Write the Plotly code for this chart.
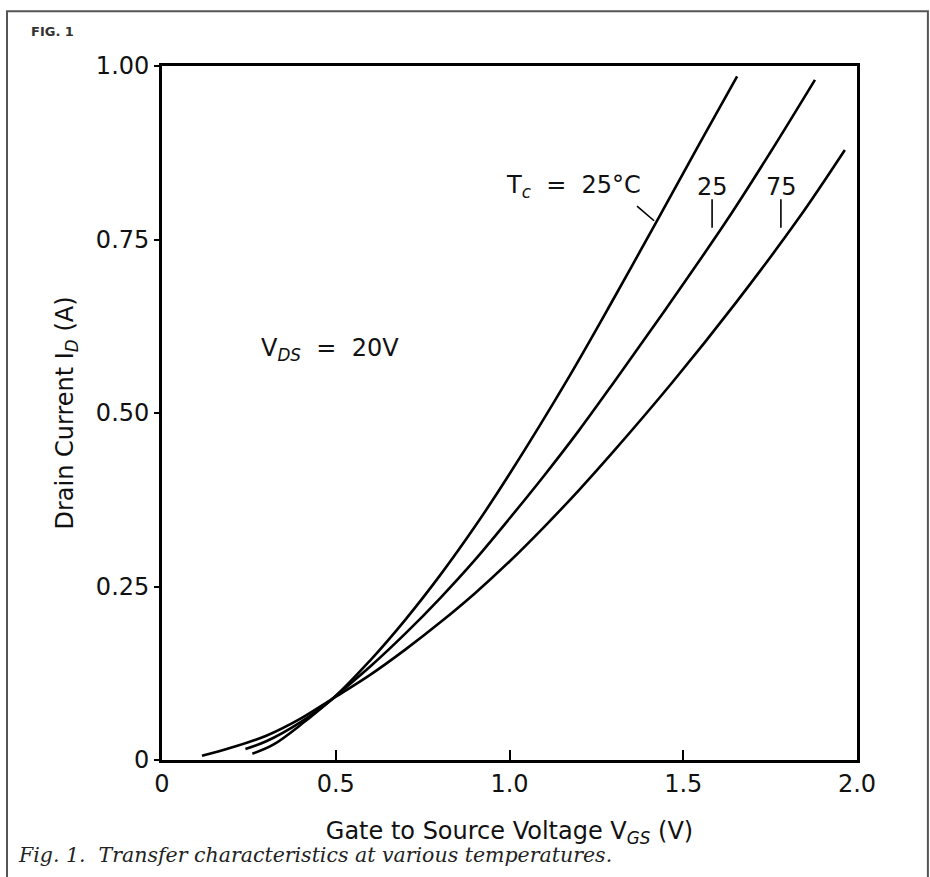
import plotly.graph_objects as go

# Data (V_GS in volts, I_D in amperes)
vgs_25a = [0.24, 0.30, 0.40, 0.49, 0.60, 0.70, 0.80, 0.90, 1.00, 1.17, 1.30, 1.43, 1.55, 1.655]
id_25a = [0.016, 0.027, 0.055, 0.088, 0.144, 0.202, 0.266, 0.336, 0.412, 0.551, 0.665, 0.782, 0.891, 0.985]

vgs_25b = [0.26, 0.32, 0.41, 0.49, 0.60, 0.70, 0.80, 0.90, 1.00, 1.10, 1.20, 1.30, 1.45, 1.626, 1.75, 1.879]
id_25b = [0.009, 0.022, 0.055, 0.088, 0.135, 0.182, 0.233, 0.288, 0.348, 0.410, 0.475, 0.544, 0.650, 0.778, 0.875, 0.980]

vgs_75 = [0.115, 0.20, 0.30, 0.40, 0.49, 0.60, 0.70, 0.80, 0.90, 1.00, 1.10, 1.20, 1.30, 1.47, 1.65, 1.83, 1.965]
id_75 = [0.006, 0.018, 0.035, 0.060, 0.088, 0.123, 0.159, 0.198, 0.240, 0.286, 0.336, 0.389, 0.445, 0.545, 0.658, 0.779, 0.879]

x_ticks = [0, 0.5, 1.0, 1.5, 2.0]
x_tick_text = ["0", "0.5", "1.0", "1.5", "2.0"]
y_ticks = [0, 0.25, 0.50, 0.75, 1.00]
y_tick_text = ["0", "0.25", "0.50", "0.75", "1.00"]

FONT = "DejaVu Sans"

fig = go.Figure()
for xs, ys in [(vgs_25a, id_25a), (vgs_25b, id_25b), (vgs_75, id_75)]:
    fig.add_trace(go.Scatter(x=xs, y=ys, mode="lines",
                             line=dict(color="black", width=2.6, shape="spline", smoothing=1.0),
                             showlegend=False, hoverinfo="skip"))

fig.update_layout(
    width=930, height=877,
    margin=dict(l=162, r=73, t=66, b=117),
    paper_bgcolor="white", plot_bgcolor="white",
    font=dict(family=FONT, color="#111", size=24),
    showlegend=False,
)
fig.update_xaxes(range=[0, 2.0], tickvals=x_ticks, ticktext=x_tick_text,
                 ticks="inside", ticklen=10, tickwidth=2, tickcolor="black",
                 showline=True, linewidth=2.8, linecolor="black", mirror=True,
                 showgrid=False, zeroline=False,
                 tickfont=dict(size=24),
                 title=dict(text="Gate to Source Voltage V<sub><i>GS</i></sub> (V)",
                            font=dict(size=24), standoff=26))
fig.update_yaxes(range=[0, 1.0], tickvals=y_ticks, ticktext=y_tick_text,
                 ticks="outside", ticklen=5, tickwidth=2, tickcolor="black",
                 showline=True, linewidth=2.8, linecolor="black", mirror=True,
                 showgrid=False, zeroline=False,
                 tickfont=dict(size=24),
                 title=dict(text="Drain Current I<sub><i>D</i></sub> (A)",
                            font=dict(size=24), standoff=16))

# text annotations
fig.add_annotation(x=0.483, y=0.591, xref="x", yref="y", showarrow=False,
                   text="V<sub><i>DS</i></sub>  =  20V", font=dict(size=24))
fig.add_annotation(x=1.185, y=0.826, xref="x", yref="y", showarrow=False,
                   text="T<sub><i>c</i></sub>  =  25°C", font=dict(size=24))
fig.add_annotation(x=1.583, y=0.826, xref="x", yref="y", showarrow=False,
                   text="25", font=dict(size=24))
fig.add_annotation(x=1.784, y=0.826, xref="x", yref="y", showarrow=False,
                   text="75", font=dict(size=24))

# pointer lines
fig.add_shape(type="line", xref="x", yref="y", x0=1.367, y0=0.798, x1=1.416, y1=0.777,
              line=dict(color="black", width=1.6))
fig.add_shape(type="line", xref="x", yref="y", x0=1.583, y0=0.808, x1=1.583, y1=0.767,
              line=dict(color="black", width=1.6))
fig.add_shape(type="line", xref="x", yref="y", x0=1.781, y0=0.808, x1=1.781, y1=0.767,
              line=dict(color="black", width=1.6))

# figure label and caption
fig.add_annotation(x=-0.192, y=1.049, xref="paper", yref="paper", showarrow=False,
                   text="<b>FIG. 1</b>", font=dict(size=13, family=FONT, color="#333"),
                   xanchor="left", yanchor="middle")
fig.add_annotation(x=-0.21, y=-0.137, xref="paper", yref="paper", showarrow=False,
                   text="<i>Fig. 1.  Transfer characteristics at various temperatures.</i>",
                   font=dict(size=20.5, family="DejaVu Serif", color="#222"),
                   xanchor="left", yanchor="middle")

# outer border
fig.add_shape(type="rect", xref="paper", yref="paper",
              x0=-0.223, y0=-0.2, x1=1.102, y1=1.079,
              line=dict(color="#555", width=2))

fig.write_html("out.html", config={"displayModeBar": False},
               post_script="document.body.style.margin='0';document.body.style.overflow='hidden';")
